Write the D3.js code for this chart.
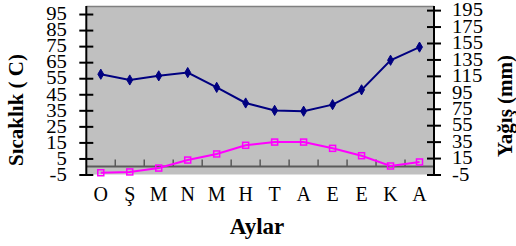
<!DOCTYPE html>
<html>
<head>
<meta charset="utf-8">
<script src="https://cdn.jsdelivr.net/npm/d3@7"></script>
<style>
  body { margin: 0; background: #fff; }
  text { font-family: "Liberation Serif", "Times New Roman", serif; }
</style>
</head>
<body>
<div class="chart"></div>
<script>
// months (Ocak ... Aralık)
const months = ["O", "Ş", "M", "N", "M", "H", "T", "A", "E", "E", "K", "A"]
// precipitation, mm (right axis)
const yagis = [117, 110, 115, 119, 101, 82, 73, 72, 80, 98, 134, 150]
// temperature, C (left axis)
const sicaklik = [-3.9, -3.4, -1, 4, 7.8, 13.2, 15.2, 15.2, 11.3, 6.7, 0.3, 2.8]
const leftTicks = [-5, 5, 15, 25, 35, 45, 55, 65, 75, 85, 95]
const rightTicks = [-5, 15, 35, 55, 75, 95, 115, 135, 155, 175, 195]

const W = 516, H = 246
const plot = {left: 86.3, right: 434, top: 6, bottom: 174.5}

const svg = d3.select(".chart").append("svg")
    .attr("width", W)
    .attr("height", H)

const x = d3.scaleBand()
    .domain(d3.range(months.length))
    .range([plot.left, plot.right])

const yL = d3.scaleLinear().domain([-5, 100]).range([plot.bottom, plot.top])
const yR = d3.scaleLinear().domain([-5, 200]).range([plot.bottom, plot.top])

// plot area
svg.append("rect")
    .attr("x", plot.left).attr("y", plot.top)
    .attr("width", plot.right - plot.left)
    .attr("height", plot.bottom - plot.top)
    .attr("fill", "#c0c0c0")
svg.append("line")
    .attr("x1", plot.left).attr("x2", plot.right)
    .attr("y1", plot.top + 0.5).attr("y2", plot.top + 0.5)
    .attr("stroke", "#808080").attr("stroke-width", 1.5)

// category axis crossing at 0
const y0 = yL(0)
svg.append("line")
    .attr("x1", plot.left).attr("x2", plot.right)
    .attr("y1", y0).attr("y2", y0)
    .attr("stroke", "#5a5a5a").attr("stroke-width", 2)
svg.append("g").selectAll("line")
    .data(d3.range(1, months.length))
    .join("line")
    .attr("x1", d => x(d)).attr("x2", d => x(d))
    .attr("y1", y0 - 7).attr("y2", y0)
    .attr("stroke", "#5a5a5a").attr("stroke-width", 1.5)

svg.append("g").selectAll("text")
    .data(months)
    .join("text")
    .attr("x", (d, i) => x(i) + x.bandwidth() / 2)
    .attr("y", 200.5)
    .attr("text-anchor", "middle")
    .style("font-size", "20px")
    .text(d => d)

const sx = 1.15

// left axis
const gL = svg.append("g")
    .attr("transform", "translate(" + plot.left + ",0)")
    .attr("font-family", null)
    .call(d3.axisLeft(yL).tickValues(leftTicks).tickFormat(d => String(d)).tickSize(7).tickSizeOuter(0))
gL.select(".domain").attr("stroke-width", 2).attr("d", "M0," + plot.top + "V" + plot.bottom)
gL.selectAll(".tick line").attr("x1", -7).attr("x2", 7).attr("stroke-width", 2)
gL.selectAll(".tick text")
    .style("font-family", "'Liberation Serif', serif")
    .style("font-size", "18px")
    .attr("fill", "#000")
    .attr("x", -19.5 / sx)
    .attr("transform", "scale(" + sx + ",1)")

// right axis
const gR = svg.append("g")
    .attr("transform", "translate(" + plot.right + ",0)")
    .call(d3.axisRight(yR).tickValues(rightTicks).tickFormat(d => String(d)).tickSize(7).tickSizeOuter(0))
gR.select(".domain").attr("stroke-width", 2).attr("d", "M0," + plot.top + "V" + plot.bottom)
gR.selectAll(".tick line").attr("x1", -7).attr("x2", 7).attr("stroke-width", 2)
gR.selectAll(".tick text")
    .style("font-family", "'Liberation Serif', serif")
    .style("font-size", "18px")
    .attr("fill", "#000")
    .attr("x", 18 / sx)
    .attr("transform", "scale(" + sx + ",1)")

// series
const cx = i => x(i) + x.bandwidth() / 2

svg.append("path")
    .datum(yagis)
    .attr("fill", "none")
    .attr("stroke", "#000080")
    .attr("stroke-width", 2)
    .attr("d", d3.line().x((d, i) => cx(i)).y(d => yR(d)))
svg.append("g").selectAll("path")
    .data(yagis)
    .join("path")
    .attr("transform", (d, i) => "translate(" + cx(i) + "," + yR(d) + ")")
    .attr("d", d3.symbol(d3.symbolDiamond, 30))
    .attr("fill", "#000080")
    .attr("stroke", "#000080")

svg.append("path")
    .datum(sicaklik)
    .attr("fill", "none")
    .attr("stroke", "#ff00ff")
    .attr("stroke-width", 2)
    .attr("d", d3.line().x((d, i) => cx(i)).y(d => yL(d)))
svg.append("g").selectAll("rect")
    .data(sicaklik)
    .join("rect")
    .attr("x", (d, i) => cx(i) - 3)
    .attr("y", d => yL(d) - 3)
    .attr("width", 6).attr("height", 6)
    .attr("fill", "none")
    .attr("stroke", "#ff00ff")
    .attr("stroke-width", 1.5)

// axis titles
svg.append("text")
    .attr("x", 257).attr("y", 233.5)
    .attr("text-anchor", "middle")
    .style("font-size", "23px")
    .style("font-weight", "bold")
    .text("Aylar")

svg.append("text")
    .attr("transform", "translate(23,110) rotate(-90)")
    .attr("text-anchor", "middle")
    .style("font-size", "21px")
    .style("font-weight", "bold")
    .text("Sıcaklık ( C)")

svg.append("text")
    .attr("transform", "translate(512,106) rotate(-90)")
    .attr("text-anchor", "middle")
    .style("font-size", "21px")
    .style("font-weight", "bold")
    .text("Yağış (mm)")
</script>
</body>
</html>
